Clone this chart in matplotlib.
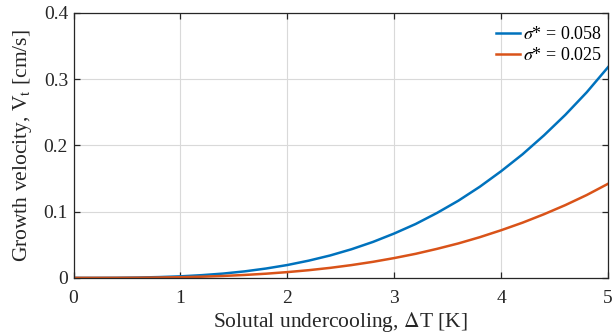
import matplotlib
matplotlib.use("Agg")
import matplotlib.pyplot as plt

dT = [0, 0.2, 0.4, 0.6, 0.8, 1.0, 1.2, 1.4, 1.6, 1.8, 2.0, 2.2, 2.4, 2.6, 2.8,
      3.0, 3.2, 3.4, 3.6, 3.8, 4.0, 4.2, 4.4, 4.6, 4.8, 5.0]
v_058 = [0, 0.00002, 0.00014, 0.0005, 0.0012, 0.0023, 0.0041, 0.0065, 0.0098, 0.0141,
         0.0194, 0.026, 0.0338, 0.0432, 0.0542, 0.067, 0.0813, 0.098, 0.1165, 0.1375,
         0.161, 0.1865, 0.215, 0.246, 0.280, 0.318]
v_025 = [0, 0.00001, 0.00006, 0.0002, 0.0005, 0.0010, 0.0018, 0.0029, 0.0044, 0.0063,
         0.0087, 0.0116, 0.0151, 0.0193, 0.0242, 0.0299, 0.0363, 0.0438, 0.0520, 0.0614,
         0.0719, 0.0833, 0.0960, 0.1098, 0.1250, 0.142]
labels = [r"$\sigma$* = 0.058", r"$\sigma$* = 0.025"]

plt.rcParams['font.family'] = ['Liberation Serif', 'DejaVu Serif']
plt.rcParams['mathtext.fontset'] = 'stix'

fig = plt.figure(figsize=(6.13, 3.36), dpi=100)
ax = fig.add_axes([0.120, 0.173, 0.872, 0.789])

ax.plot(dT, v_058, color='#0072BD', lw=1.8, label=labels[0])
ax.plot(dT, v_025, color='#D95319', lw=1.8, label=labels[1])

ax.set_xlim(0, 5)
ax.set_ylim(0, 0.4)
ax.set_xticks([0, 1, 2, 3, 4, 5])
ax.set_yticks([0, 0.1, 0.2, 0.3, 0.4])
ax.set_xticklabels(['0', '1', '2', '3', '4', '5'])
ax.set_yticklabels(['0', '0.1', '0.2', '0.3', '0.4'])
ax.grid(True, color='#d9d9d9', lw=0.8)
ax.set_axisbelow(True)
ax.tick_params(direction='in', top=True, right=True, labelsize=14, length=4, width=0.9,
               colors='#262626')
ax.tick_params(axis='x', pad=9)
ax.tick_params(axis='y', pad=4)
for s in ax.spines.values():
    s.set_color('#262626')
    s.set_linewidth(0.9)

ax.set_xlabel(r"Solutal undercooling, $\Delta$T [K]", fontsize=15.5, labelpad=2, color='#262626')
ax.set_ylabel(r"Growth velocity, V$_\mathrm{t}$ [cm/s]", fontsize=15.5, labelpad=7, color='#262626')

ax.legend(loc='upper right', bbox_to_anchor=(1.008, 0.99), frameon=False, fontsize=13,
          handlelength=1.3, handletextpad=0.15, borderaxespad=0.2, labelspacing=0.2)

fig.savefig('out.png', dpi=100)
